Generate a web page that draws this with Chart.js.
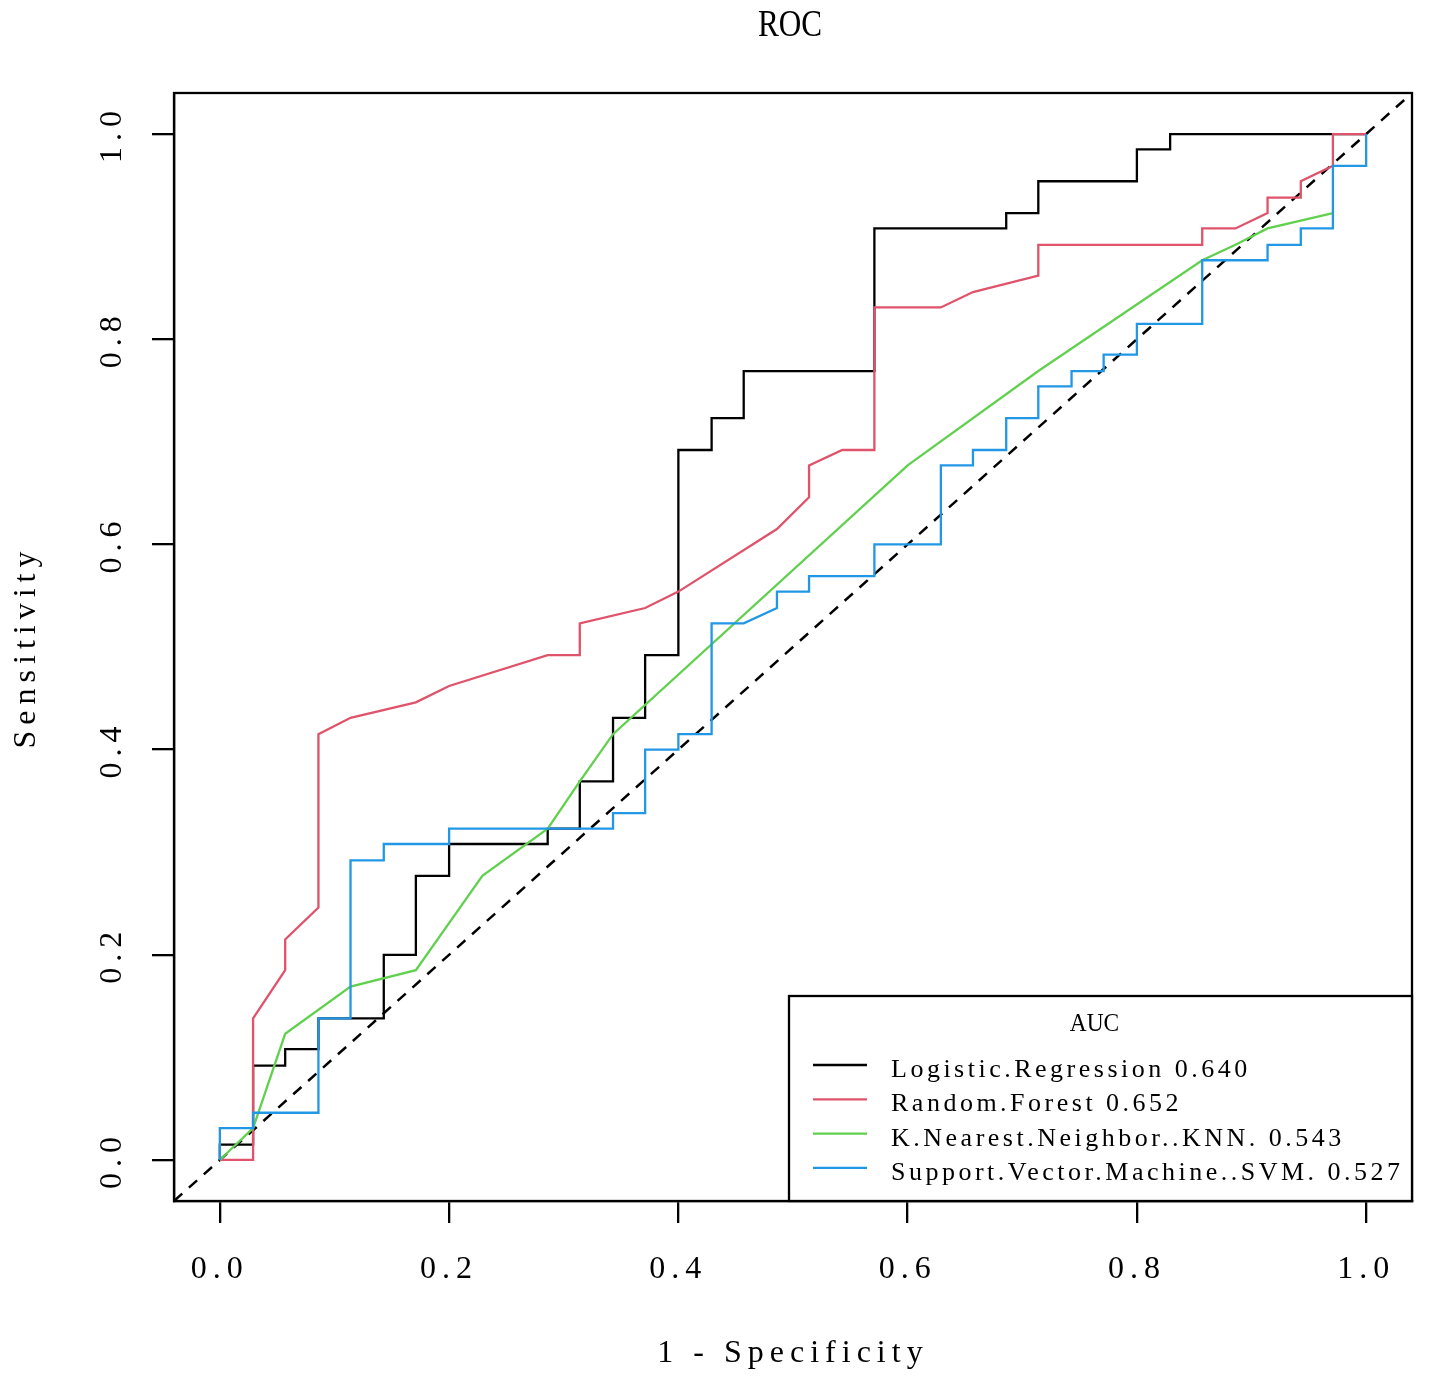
<!DOCTYPE html>
<html>
<head>
<meta charset="utf-8">
<title>ROC</title>
<script src="https://cdn.jsdelivr.net/npm/chart.js@4.4.1/dist/chart.umd.min.js"></script>
<style>
    html, body { margin: 0; padding: 0; background: #ffffff; }
    #wrap { position: relative; width: 1429px; height: 1384px; }
</style>
</head>
<body>
<div id="wrap"><canvas id="rocChart"></canvas></div>
<script>
// Curves: x = 1 - specificity, y = sensitivity
const modelNames = ['Logistic.Regression', 'Random.Forest', 'K.Nearest.Neighbor..KNN.', 'Support.Vector.Machine..SVM.'];
const aucValues = ['0.640', '0.652', '0.543', '0.527'];
const modelColors = ['#000000', '#DF536B', '#61D04F', '#2297E6'];

const lrX = [0, 0, 0.029, 0.029, 0.057, 0.057, 0.086, 0.086, 0.143, 0.143, 0.171, 0.171, 0.2, 0.2, 0.286, 0.286, 0.314, 0.314, 0.343, 0.343,
    0.371, 0.371, 0.4, 0.4, 0.429, 0.429, 0.457, 0.457, 0.571, 0.571, 0.686, 0.686, 0.714, 0.714, 0.8, 0.8, 0.829, 0.829, 1];
const lrY = [0, 0.015, 0.015, 0.092, 0.092, 0.108, 0.108, 0.138, 0.138, 0.2, 0.2, 0.277, 0.277, 0.308, 0.308, 0.323, 0.323, 0.369, 0.369, 0.431,
    0.431, 0.492, 0.492, 0.692, 0.692, 0.723, 0.723, 0.769, 0.769, 0.908, 0.908, 0.923, 0.923, 0.954, 0.954, 0.985, 0.985, 1, 1];

const rfX = [0, 0.029, 0.029, 0.057, 0.057, 0.086, 0.086, 0.114, 0.171, 0.2, 0.286, 0.314, 0.314, 0.371, 0.4, 0.486, 0.514, 0.514,
    0.543, 0.571, 0.571, 0.629, 0.657, 0.714, 0.714, 0.857, 0.857, 0.886, 0.914, 0.914, 0.943, 0.943, 0.971, 0.971, 1];
const rfY = [0, 0, 0.138, 0.185, 0.215, 0.246, 0.415, 0.431, 0.446, 0.462, 0.492, 0.492, 0.523, 0.538, 0.554, 0.615, 0.646, 0.677,
    0.692, 0.692, 0.831, 0.831, 0.846, 0.862, 0.892, 0.892, 0.908, 0.908, 0.923, 0.938, 0.938, 0.954, 0.969, 1, 1];

// last visible KNN point; the rest of that curve is hidden under the others
const knnX = [0, 0.029, 0.057, 0.114, 0.171, 0.229, 0.286, 0.314, 0.343, 0.6, 0.714, 0.857, 0.886, 0.914, 0.971];
const knnY = [0, 0.031, 0.123, 0.169, 0.185, 0.277, 0.323, 0.369, 0.415, 0.677, 0.769, 0.877, 0.892, 0.908, 0.923];

const svmX = [0, 0, 0.029, 0.029, 0.086, 0.086, 0.114, 0.114, 0.143, 0.143, 0.2, 0.2, 0.343, 0.343, 0.371, 0.371, 0.4, 0.4, 0.429, 0.429,
    0.457, 0.486, 0.486, 0.514, 0.514, 0.571, 0.571, 0.629, 0.629, 0.657, 0.657, 0.686, 0.686, 0.714, 0.714, 0.743, 0.743, 0.771, 0.771,
    0.8, 0.8, 0.857, 0.857, 0.914, 0.914, 0.943, 0.943, 0.971, 0.971, 1, 1];
const svmY = [0, 0.031, 0.031, 0.046, 0.046, 0.138, 0.138, 0.292, 0.292, 0.308, 0.308, 0.323, 0.323, 0.338, 0.338, 0.4, 0.4, 0.415, 0.415, 0.523,
    0.523, 0.538, 0.554, 0.554, 0.569, 0.569, 0.6, 0.6, 0.677, 0.677, 0.692, 0.692, 0.723, 0.723, 0.754, 0.754, 0.769, 0.769, 0.785,
    0.785, 0.815, 0.815, 0.877, 0.877, 0.892, 0.892, 0.908, 0.908, 0.969, 0.969, 1];

// chance line spans the whole plotting region
const diagX = [-0.04, 1.04];
const diagY = [-0.04, 1.04];

const tickValues = [0, 0.2, 0.4, 0.6, 0.8, 1.0];
const axisMin = -0.04;
const axisMax = 1.04;

function toPoints(xs, ys) {
    return xs.map(function(x, i) { return { x: x, y: ys[i] }; });
}

const curveX = [lrX, rfX, knnX, svmX];
const curveY = [lrY, rfY, knnY, svmY];

const datasets = modelNames.map(function(name, i) {
    return {
        label: name + ' ' + aucValues[i],
        data: toPoints(curveX[i], curveY[i]),
        borderColor: modelColors[i],
        borderWidth: 2.3,
        pointRadius: 0,
        tension: 0,
        fill: false,
        order: 4 - i   // R draws later curves on top
    };
});
datasets.push({
    label: 'chance',
    data: toPoints(diagX, diagY),
    borderColor: '#000000',
    borderWidth: 2.5,
    borderDash: [11, 9],
    pointRadius: 0,
    fill: false,
    order: 10
});

// frame, title and the AUC legend, drawn the way base R does
const rPlotExtras = {
    id: 'rPlotExtras',
    beforeDraw(chart) {
        chart.ctx.letterSpacing = '6px';
    },
    afterDraw(chart) {
        const ctx = chart.ctx;
        const a = chart.chartArea;
        ctx.save();
        ctx.letterSpacing = '0px';

        // box around plot
        ctx.strokeStyle = '#000';
        ctx.lineWidth = 2.3;
        ctx.strokeRect(a.left, a.top, a.right - a.left, a.bottom - a.top);

        // title
        ctx.fillStyle = '#000';
        ctx.font = '38px "Liberation Serif"';
        ctx.textAlign = 'center';
        ctx.textBaseline = 'alphabetic';
        ctx.save();
        ctx.translate(790, 36);
        ctx.scale(0.82, 1);
        ctx.fillText('ROC', 0, 0);
        ctx.restore();

        // legend, bottom right
        const boxW = 623, boxH = 205;
        const bx = a.right - boxW, by = a.bottom - boxH;
        ctx.fillStyle = '#fff';
        ctx.fillRect(bx, by, boxW, boxH);
        ctx.strokeRect(bx, by, boxW, boxH);

        ctx.fillStyle = '#000';
        ctx.font = '26px "Liberation Serif"';
        ctx.textAlign = 'center';
        ctx.save();
        ctx.translate(bx + boxW / 2 - 6, by + 35);
        ctx.scale(0.9, 1);
        ctx.fillText('AUC', 0, 0);
        ctx.restore();

        ctx.textAlign = 'left';
        ctx.letterSpacing = '3.5px';
        modelNames.forEach(function(name, i) {
            const ly = by + 69 + i * 34.3;
            ctx.strokeStyle = modelColors[i];
            ctx.lineWidth = 2.3;
            ctx.beginPath();
            ctx.moveTo(bx + 24, ly);
            ctx.lineTo(bx + 78, ly);
            ctx.stroke();
            ctx.fillStyle = '#000';
            ctx.fillText(name + ' ' + aucValues[i], bx + 102, ly + 12);
        });

        ctx.restore();
        ctx.letterSpacing = '0px';
    }
};

Chart.defaults.font.family = '"Liberation Serif", "DejaVu Serif", serif';
Chart.defaults.font.size = 32;
Chart.defaults.color = '#000';

new Chart(document.getElementById('rocChart').getContext('2d'), {
    type: 'line',
    data: { datasets: datasets },
    options: {
        responsive: true,
        maintainAspectRatio: false,
        devicePixelRatio: 1,
        animation: false,
        events: [],
        layout: { padding: { top: 93, right: 17, bottom: 0, left: 0 } },
        scales: {
            x: {
                type: 'linear',
                min: axisMin,
                max: axisMax,
                afterBuildTicks: function(scale) {
                    scale.ticks = tickValues.map(function(v) { return { value: v }; });
                },
                afterFit: function(scale) { scale.height = 183; },
                grid: { drawOnChartArea: false, drawTicks: true, tickLength: 22, color: '#000', lineWidth: 2.3 },
                border: { display: true, color: '#000', width: 2.3 },
                ticks: {
                    padding: 27,
                    color: '#000',
                    autoSkip: false,
                    maxRotation: 0,
                    minRotation: 0,
                    callback: function(v) { return v.toFixed(1); }
                },
                title: {
                    display: true,
                    text: '1 - Specificity',
                    color: '#000',
                    font: { size: 32 },
                    padding: { top: 0, bottom: 11 }
                }
            },
            y: {
                type: 'linear',
                min: axisMin,
                max: axisMax,
                afterBuildTicks: function(scale) {
                    scale.ticks = tickValues.map(function(v) { return { value: v }; });
                },
                afterFit: function(scale) { scale.width = 174; },
                grid: { drawOnChartArea: false, drawTicks: true, tickLength: 22, color: '#000', lineWidth: 2.3 },
                border: { display: true, color: '#000', width: 2.3 },
                ticks: {
                    padding: 19,
                    color: '#000',
                    autoSkip: false,
                    minRotation: 90,
                    maxRotation: 90,
                    crossAlign: 'center',
                    callback: function(v) { return v.toFixed(1); }
                },
                title: {
                    display: true,
                    text: 'Sensitivity',
                    color: '#000',
                    font: { size: 32 },
                    padding: { top: 7, bottom: 0 }
                }
            }
        },
        plugins: {
            legend: { display: false },
            tooltip: { enabled: false },
            title: { display: false }
        }
    },
    plugins: [rPlotExtras]
});
</script>
</body>
</html>
